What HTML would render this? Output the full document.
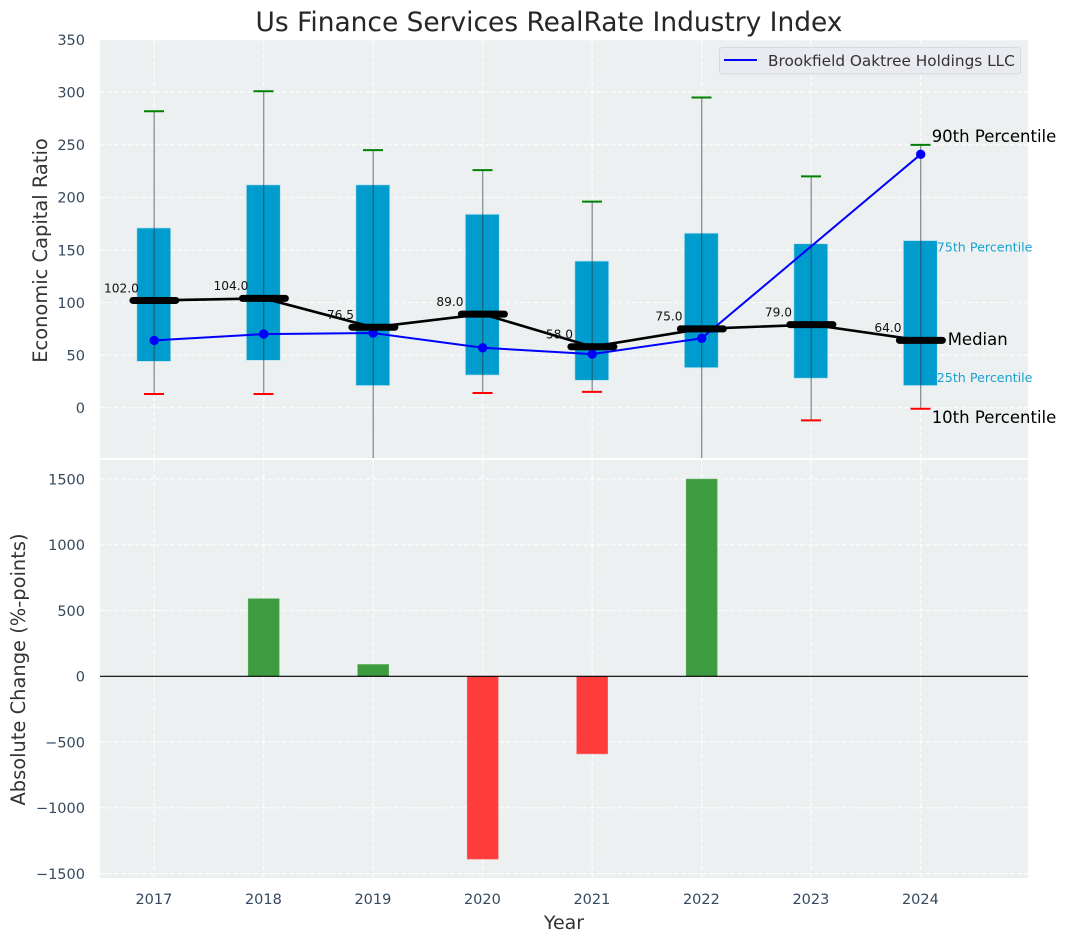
<!DOCTYPE html>
<html lang="en">
<head>
<meta charset="utf-8">
<title>Us Finance Services RealRate Industry Index</title>
<style>
html,body{margin:0;padding:0;background:#fff;width:1067px;height:942px;overflow:hidden}
svg{display:block;font-family:"DejaVu Sans","Liberation Sans",sans-serif}
</style>
</head>
<body>
<svg id="chart" xmlns="http://www.w3.org/2000/svg" width="1067" height="942" viewBox="0 0 1067 942">
  <defs>
    <clipPath id="top-clip"><rect x="100" y="40" width="928" height="418"/></clipPath>
    <clipPath id="bottom-clip"><rect x="100" y="460" width="928" height="418"/></clipPath>
  </defs>
  <text x="549" y="31" text-anchor="middle" font-size="26.45" fill="#262626">Us Finance Services RealRate Industry Index</text>
  <rect x="100" y="40" width="928" height="418" fill="#ecf0f1"/>
  <rect x="100" y="460" width="928" height="418" fill="#ecf0f1"/>
  <g id="grid"></g>
  <g id="top-marks" clip-path="url(#top-clip)"></g>
  <g id="bottom-marks" clip-path="url(#bottom-clip)"></g>
  <g id="labels"></g>
  <text transform="translate(47,250.5) rotate(-90)" text-anchor="middle" font-size="19.45" fill="#333333">Economic Capital Ratio</text>
  <text transform="translate(25,669.5) rotate(-90)" text-anchor="middle" font-size="19.45" fill="#333333">Absolute Change (%-points)</text>
  <text x="564" y="929" text-anchor="middle" font-size="19" fill="#333333">Year</text>
  <g>
    <rect x="719.5" y="47.5" width="301" height="26.5" rx="3" fill="#e9ebf0" stroke="#d5d8dc" stroke-width="1"/>
    <line x1="724" y1="60" x2="757" y2="60" stroke="#0000ff" stroke-width="2"/>
    <text x="768" y="66" font-size="15.3" fill="#333333">Brookfield Oaktree Holdings LLC</text>
  </g>
</svg>
<script>
const years = [2017, 2018, 2019, 2020, 2021, 2022, 2023, 2024];
const p10 = [13, 13, -60, 14, 15, -70, -12, -1];
const p25 = [44, 45, 21, 31, 26, 38, 28, 21];
const medians = [102, 104, 76.5, 89, 58, 75, 79, 64];
const p75 = [171, 212, 212, 184, 139.5, 166, 156, 159];
const p90 = [282, 301, 245, 226, 196, 295, 220, 250];
const company = [64, 70, 71, 57, 51, 66, null, 241];
const changes = [0, 590, 90, -1390, -590, 1500, 0, 0];
const topTicks = [0, 50, 100, 150, 200, 250, 300, 350];
const bottomTicks = [-1500, -1000, -500, 0, 500, 1000, 1500];

const NS = 'http://www.w3.org/2000/svg';
const xScale = v => 154.2 + (v - 2017) * 109.5;
const yTop = v => 407.7 - v * 1.0514;
const yBottom = v => 676.3 - v * 0.1315;

function mk(tag, parent, attrs, text) {
  const node = document.createElementNS(NS, tag);
  for (const k in attrs) node.setAttribute(k, attrs[k]);
  if (text !== undefined) node.textContent = text;
  parent.appendChild(node);
  return node;
}

const grid = document.getElementById('grid');
const topG = document.getElementById('top-marks');
const botG = document.getElementById('bottom-marks');
const labels = document.getElementById('labels');
const gridStyle = {stroke: '#ffffff', 'stroke-width': 1.2, 'stroke-dasharray': '4.5 2.5', opacity: 0.9};
let el;

topTicks.forEach(t => {
  el = mk('line', grid, Object.assign({x1: 100, x2: 1028, y1: yTop(t), y2: yTop(t)}, gridStyle));
  
  
  el = mk('text', labels, {x: 85, y: yTop(t) + 5.3, 'text-anchor': 'end', 'font-size': 14.5, fill: '#34495e'}, String(t));
  
  
});

bottomTicks.forEach(t => {
  el = mk('line', grid, Object.assign({x1: 100, x2: 1028, y1: yBottom(t), y2: yBottom(t)}, gridStyle));
  
  
  el = mk('text', labels, {x: 85, y: yBottom(t) + 5.3, 'text-anchor': 'end', 'font-size': 14.5, fill: '#34495e'}, String(t).replace('-', '\u2212'));
  
  
});

years.forEach(y => {
  const x = xScale(y);
  el = mk('line', grid, Object.assign({x1: x, x2: x, y1: 40, y2: 458}, gridStyle));
  
  
  el = mk('line', grid, Object.assign({x1: x, x2: x, y1: 460, y2: 878}, gridStyle));
  
  
  el = mk('text', labels, {x: x - 0.3, y: 904, 'text-anchor': 'middle', 'font-size': 14.5, fill: '#34495e'}, String(y));
  
  
});

years.forEach((y, i) => {
  const x = xScale(y);
  el = mk('rect', topG, {x: x - 17.4, y: yTop(p75[i]), width: 34, height: yTop(p25[i]) - yTop(p75[i]), fill: '#009ccd', stroke: '#bfe3ef', 'stroke-width': 0.8});
  
  
  el = mk('line', topG, {x1: x, x2: x, y1: yTop(p90[i]), y2: yTop(p10[i]), stroke: '#2c3a40', 'stroke-opacity': 0.55, 'stroke-width': 1.3});
  
  
  el = mk('line', topG, {x1: x - 10.2, x2: x + 9.8, y1: yTop(p90[i]), y2: yTop(p90[i]), stroke: '#008000', 'stroke-width': 2});
  
  
  el = mk('line', topG, {x1: x - 10.2, x2: x + 9.8, y1: yTop(p10[i]), y2: yTop(p10[i]), stroke: '#ff0000', 'stroke-width': 2});
  
  
});

const companyPts = years.map((y, i) => company[i] === null ? null : [xScale(y), yTop(company[i])]).filter(Boolean);
el = mk('polyline', topG, {points: companyPts.map(p => p.join(',')).join(' '), fill: 'none', stroke: '#0000ff', 'stroke-width': 2});


companyPts.forEach(p => {
  el = mk('circle', topG, {cx: p[0], cy: p[1], r: 4.7, fill: '#0000ff'});
  
  
});

el = mk('polyline', topG, {points: years.map((y, i) => xScale(y) + ',' + yTop(medians[i])).join(' '), fill: 'none', stroke: '#000000', 'stroke-width': 2.6});



years.forEach((y, i) => {
  const x = xScale(y);
  el = mk('line', topG, {x1: x - 21.3, x2: x + 21.7, y1: yTop(medians[i]), y2: yTop(medians[i]), stroke: '#000000', 'stroke-width': 7, 'stroke-linecap': 'round'});
  
  
  el = mk('text', labels, {x: x - 32.8, y: yTop(medians[i]) - 8.2, 'text-anchor': 'middle', 'font-size': 12.2, fill: '#111111'}, medians[i].toFixed(1));
  
  
});

const last = years.length - 1;
const lastX = xScale(years[last]);
el = mk('text', labels, {x: lastX + 11, y: yTop(p90[last]) - 3, 'font-size': 16.5, fill: '#000000'}, '90th Percentile');


el = mk('text', labels, {x: lastX + 16, y: yTop(p75[last]) + 11, 'font-size': 12.7, fill: '#0099cc', opacity: 0.9}, '75th Percentile');


el = mk('text', labels, {x: lastX + 27, y: yTop(medians[last]) + 4.5, 'font-size': 16.5, fill: '#000000'}, 'Median');


el = mk('text', labels, {x: lastX + 16, y: yTop(p25[last]) - 3.7, 'font-size': 12.7, fill: '#0099cc', opacity: 0.9}, '25th Percentile');


el = mk('text', labels, {x: lastX + 11, y: yTop(p10[last]) + 14.3, 'font-size': 16.5, fill: '#000000'}, '10th Percentile');



years.forEach((y, i) => {
  if (changes[i] === 0) return;
  const x = xScale(y);
  const top = Math.min(yBottom(0), yBottom(changes[i]));
  const h = Math.abs(yBottom(changes[i]) - yBottom(0));
  el = mk('rect', botG, {x: x - 15.5, y: top, width: 31, height: h, fill: changes[i] > 0 ? '#3c9c3f' : '#ff3c3c', stroke: changes[i] > 0 ? '#5fb062' : '#ff6a6a', 'stroke-width': 0.6});
  
  
});
el = mk('line', botG, {x1: 100, x2: 1028, y1: yBottom(0), y2: yBottom(0), stroke: '#000000', 'stroke-width': 1.2});


</script>
</body>
</html>
